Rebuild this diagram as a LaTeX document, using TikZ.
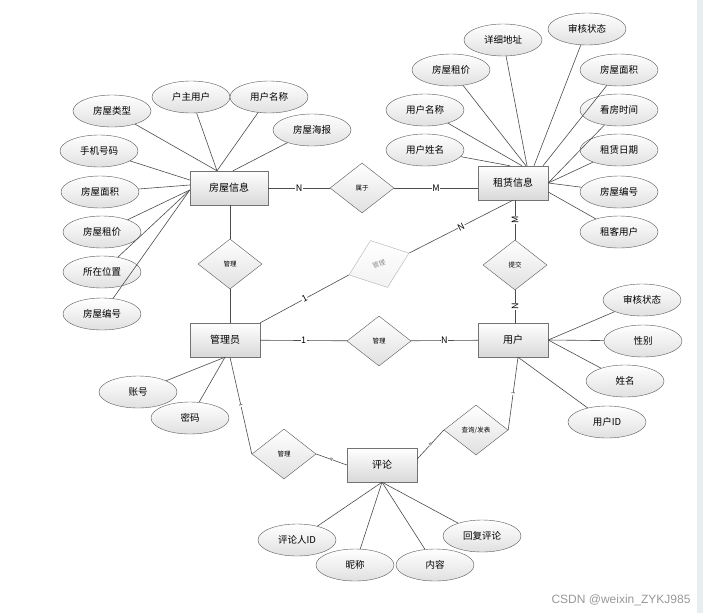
\documentclass[tikz,border=0pt]{standalone}
\usepackage{fontspec}
\setmainfont{Noto Sans CJK SC}
\newfontfamily\wmfont{Liberation Sans}
\usetikzlibrary{shapes.geometric}
\definecolor{stripgray}{HTML}{E8EDF0}

\begin{document}
\begin{tikzpicture}[x=1pt, y=-1pt,
    entity/.style={draw=black!55, top color=white, bottom color=black!15, minimum width=70, minimum height=34, inner sep=0pt, font=\fontsize{10}{12}\selectfont},
    attr/.style={ellipse, draw=black!65, top color=white, bottom color=black!12, minimum width=78, minimum height=32, inner sep=0pt, font=\fontsize{9.5}{11}\selectfont},
    rel/.style={diamond, draw=black!65, top color=white, bottom color=black!12, minimum width=64, minimum height=50, inner sep=0pt, font=\fontsize{6.5}{8}\selectfont},
    card/.style={fill=white, inner sep=0.6pt, font=\fontsize{9}{10}\selectfont},
    tick/.style={fill=white, inner sep=0pt, sloped, font=\fontsize{4}{4}\selectfont},
    link/.style={draw=black!70, line width=0.6pt}]
        \path[use as bounding box, fill=white] (0,0) rectangle (703,613);
        \fill[stripgray] (697,0) rectangle (703,613);

        % Entities
        \node[entity, minimum width=78] (fwxx) at (229,188) {房屋信息};
        \node[entity] (zlxx) at (513,183) {租赁信息};
        \node[entity] (gly) at (225,340) {管理员};
        \node[entity] (yh) at (513,340) {用户};
        \node[entity] (pl) at (382,465) {评论};

        % Relationships
        \node[rel] (sy) at (362,188) {属于};
        \node[rel] (gl1) at (230,264) {管理};
        \node[rel, rotate=20, draw=black!30, bottom color=black!5, text=black!45] (gl2) at (379,264) {管理};
        \node[rel] (tj) at (515,265) {提交};
        \node[rel] (gl3) at (379,341) {管理};
        \node[rel] (gl4) at (284,454) {管理};
        \node[rel] (cx) at (476,430) {查询/发表};

        % Attributes
        \foreach \n/\x/\y/\t in {hlx/112/111/房屋类型, hzy/191/97/户主用户, hmc/269/97/用户名称, hhb/312/130/房屋海报,
            hsj/99/151/手机号码, hmj/100/192/房屋面积, hzj/102/232/房屋租价, hwz/102/272/所在位置, hbh/102/314/房屋编号,
            rdz/503/40/详细地址, rsh/587/29/审核状态, rzj/451/70/房屋租价, rmj/619/70/房屋面积, rmc/425/110/用户名称,
            rkf/619/110/看房时间, rxm/425/150/用户姓名, rrq/619/150/租赁日期, rbh/619/192/房屋编号, rzk/619/232/租客用户,
            ush/642/300/审核状态, uxb/643/341/性别, uxm/625/381/姓名, uid/607/422/用户ID,
            azh/138/392/账号, amm/190/418/密码,
            cpr/297/540/评论人ID, cnc/355/565/昵称, cnr/435/565/内容, chf/482/536/回复评论}
            \node[attr] (\n) at (\x,\y) {\t};

        % Attribute links
        \foreach \n in {hlx, hzy, hmc} \draw[link] (\n) -- ([xshift=-12pt]fwxx.north);
        \draw[link] (hhb) -- ([xshift=4pt]fwxx.north);
        \draw[link] (hsj) -- ([yshift=8pt]fwxx.west);
        \draw[link] (hmj) -- ([yshift=3pt]fwxx.west);
        \foreach \n in {hzj, hwz, hbh} \draw[link] (\n) -- ([yshift=-2pt]fwxx.west);

        \draw[link] (rdz) -- ([xshift=14pt]zlxx.north);
        \draw[link] (rzj) -- ([xshift=13pt]zlxx.north);
        \draw[link] (rmc) -- ([xshift=9pt]zlxx.north);
        \draw[link] (rxm) -- ([xshift=-3pt]zlxx.north);
        \draw[link] (rsh) -- ([xshift=21pt]zlxx.north);
        \draw[link] (rmj) -- ([xshift=30pt]zlxx.north);
        \foreach \n in {rkf, rrq, rbh} \draw[link] (\n) -- (zlxx.east);
        \draw[link] (rzk) -- ([yshift=-9pt]zlxx.east);

        \foreach \n in {ush, uxb, uxm} \draw[link] (\n) -- (yh.east);
        \draw[link] (uid) -- ([xshift=5pt]yh.south);
        \foreach \n in {azh, amm} \draw[link] (\n) -- (gly.south);
        \foreach \n in {cpr, cnc, cnr, chf} \draw[link] (\n) -- (pl.south);

        % Relationship links
        \draw[link] (fwxx) -- node[card]{N} (sy);
        \draw[link] (sy) -- node[card]{M} (sy.east -| zlxx.west);
        \draw[link] (fwxx.south -| gl1) -- (gl1.north);
        \draw[link] (gl1.south) -- (gl1.south |- gly.north);
        \draw[link] (gly.north east) -- node[card, sloped]{1} (gl2.west);
        \draw[link] (gl2.east) -- node[card, sloped]{N} (zlxx.south);
        \draw[link] (tj.north |- zlxx.south) -- node[card, rotate=90]{M} (tj.north);
        \draw[link] (tj.south) -- node[card, rotate=90]{N} (tj.south |- yh.north);
        \draw[link] (gly) -- node[card]{1} (gl3);
        \draw[link] (gl3) -- node[card]{N} (yh);
        \draw[link] ([xshift=5pt]gly.south) -- node[tick]{1} (gl4.west);
        \draw[link] (gl4.east) -- node[tick]{N} (pl.west);
        \draw[link] ([yshift=6pt]pl.east) -- node[tick]{N} (cx.west);
        \draw[link] (cx.east) -- node[tick]{1} ([xshift=5pt]yh.south);

        \node[text=black!40, font=\wmfont\fontsize{12}{14}\selectfont] (wm) at (621,600) {CSDN @weixin\_ZYKJ985};
\end{tikzpicture}
\end{document}
